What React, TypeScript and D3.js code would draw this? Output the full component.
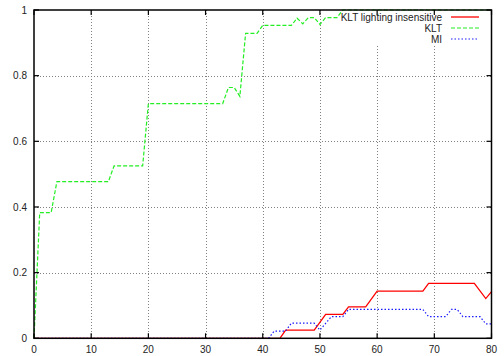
import { useEffect, useRef } from 'react'
import * as d3 from 'd3'

const W = 504
const H = 356
const PLOT = { left: 34, right: 491.5, top: 10, bottom: 338.3 }

const xTicks = [0, 10, 20, 30, 40, 50, 60, 70, 80]
const yTicks = [0, 0.2, 0.4, 0.6, 0.8, 1]

const kltX = [0, 1, 3, 4, 13, 14, 19, 20, 33, 34, 35, 36, 37, 39, 40, 45, 46, 47, 48, 49, 50, 51, 53, 54, 80]
const kltY = [0, 0.383, 0.383, 0.477, 0.477, 0.525, 0.525, 0.715, 0.715, 0.764, 0.764, 0.737, 0.929, 0.929, 0.953, 0.953, 0.975, 0.958, 0.977, 0.977, 0.956, 0.977, 0.977, 1, 1]

const kltLiX = [0, 43, 44, 49, 51, 54, 55, 58, 60, 68, 69, 77, 79, 80]
const kltLiY = [0, 0, 0.025, 0.025, 0.073, 0.073, 0.096, 0.096, 0.144, 0.144, 0.167, 0.167, 0.121, 0.142]

const miX = [0, 41, 42, 44, 45, 49, 50, 52, 54, 55, 68, 69, 72, 73, 74, 75, 78, 79, 80]
const miY = [0, 0, 0.022, 0.022, 0.046, 0.046, 0.025, 0.066, 0.066, 0.088, 0.088, 0.066, 0.066, 0.088, 0.088, 0.066, 0.066, 0.044, 0.044]

const series = [
  { name: 'KLT lighting insensitive', xs: kltLiX, ys: kltLiY, color: '#ff0000', dash: null, width: 1.3 },
  { name: 'KLT', xs: kltX, ys: kltY, color: '#22ee22', dash: '4,2', width: 1.2 },
  { name: 'MI', xs: miX, ys: miY, color: '#1a1aff', dash: '1.5,2', width: 1.2 },
]

const FONT = '"Liberation Sans", Arial, Helvetica, sans-serif'

export default function App() {
  const svgRef = useRef(null)

  useEffect(() => {
    const svg = d3.select(svgRef.current)
    svg.selectAll('*').remove()

    const x = d3.scaleLinear().domain([0, 80]).range([PLOT.left, PLOT.right])
    const y = d3.scaleLinear().domain([0, 1]).range([PLOT.bottom, PLOT.top])

    svg.append('rect').attr('width', W).attr('height', H).attr('fill', '#fff')

    // grid
    const grid = svg.append('g')
      .attr('stroke', '#808080')
      .attr('stroke-width', 1)
      .attr('stroke-dasharray', '1,2')
    xTicks.slice(1, -1).forEach(t => {
      grid.append('line')
        .attr('x1', Math.round(x(t)) + 0.5).attr('x2', Math.round(x(t)) + 0.5)
        .attr('y1', PLOT.top).attr('y2', PLOT.bottom)
    })
    yTicks.slice(1, -1).forEach(t => {
      grid.append('line')
        .attr('x1', PLOT.left).attr('x2', PLOT.right)
        .attr('y1', Math.round(y(t)) + 0.5).attr('y2', Math.round(y(t)) + 0.5)
    })

    // legend area blanks the grid
    svg.append('rect')
      .attr('x', 336).attr('y', PLOT.top + 1)
      .attr('width', PLOT.right - 337).attr('height', 34)
      .attr('fill', '#fff')

    // curves
    series.forEach(s => {
      const pts = s.xs.map((v, i) => [v, s.ys[i]])
      const line = d3.line().x(d => x(d[0])).y(d => y(d[1]))
      svg.append('path')
        .attr('d', line(pts))
        .attr('fill', 'none')
        .attr('stroke', s.color)
        .attr('stroke-width', s.width)
        .attr('stroke-dasharray', s.dash)
    })

    // frame
    svg.append('rect')
      .attr('x', PLOT.left).attr('y', PLOT.top)
      .attr('width', PLOT.right - PLOT.left).attr('height', PLOT.bottom - PLOT.top)
      .attr('fill', 'none').attr('stroke', '#000').attr('stroke-width', 1.5)

    // ticks (inward, mirrored)
    const ticks = svg.append('g').attr('stroke', '#000').attr('stroke-width', 1.2)
    xTicks.forEach(t => {
      const px = x(t)
      ticks.append('line').attr('x1', px).attr('x2', px).attr('y1', PLOT.bottom).attr('y2', PLOT.bottom - 5)
      ticks.append('line').attr('x1', px).attr('x2', px).attr('y1', PLOT.top).attr('y2', PLOT.top + 5)
    })
    yTicks.forEach(t => {
      const py = y(t)
      ticks.append('line').attr('x1', PLOT.left).attr('x2', PLOT.left + 5).attr('y1', py).attr('y2', py)
      ticks.append('line').attr('x1', PLOT.right).attr('x2', PLOT.right - 5).attr('y1', py).attr('y2', py)
    })

    // tick labels
    const labels = svg.append('g')
      .attr('font-family', FONT)
      .attr('font-size', 10)
      .attr('fill', '#222')
    xTicks.forEach(t => {
      labels.append('text')
        .attr('x', x(t)).attr('y', 353)
        .attr('text-anchor', 'middle')
        .text(t)
    })
    yTicks.forEach(t => {
      labels.append('text')
        .attr('x', 27).attr('y', y(t) + 3.6)
        .attr('text-anchor', 'end')
        .text(t)
    })

    // legend
    const leg = svg.append('g').attr('font-family', FONT).attr('font-size', 10).attr('fill', '#222')
    series.forEach((s, i) => {
      const ly = 17 + i * 11
      leg.append('text')
        .attr('x', 442).attr('y', ly + 3.6)
        .attr('text-anchor', 'end')
        .text(s.name)
      leg.append('line')
        .attr('x1', 451).attr('x2', 479)
        .attr('y1', ly).attr('y2', ly)
        .attr('stroke', s.color)
        .attr('stroke-width', s.width)
        .attr('stroke-dasharray', s.dash)
    })
  }, [])

  return (
    <svg
      ref={svgRef}
      width={W}
      height={H}
      style={{ position: 'absolute', left: 0, top: 0, display: 'block' }}
    />
  )
}
